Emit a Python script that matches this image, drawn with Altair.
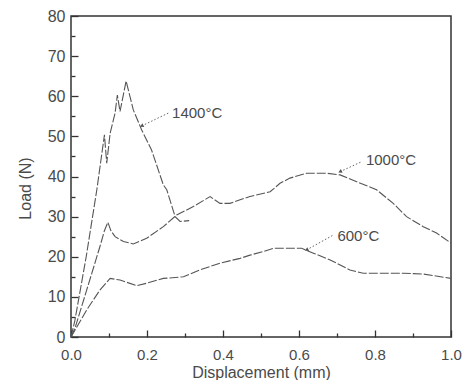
import altair as alt
import pandas as pd

# ---- data ----
d_1400 = [0, 0.01, 0.04, 0.068, 0.088, 0.094, 0.103, 0.116, 0.122, 0.129, 0.145, 0.164, 0.186, 0.212, 0.243, 0.252, 0.274, 0.287, 0.311]
l_1400 = [0, 4, 20, 36.7, 50.4, 43.3, 50.8, 55.8, 60.3, 56.2, 63.8, 56.6, 51.6, 46.6, 37.9, 36.7, 30, 28.8, 29]

d_1000 = [0, 0.0105, 0.04, 0.076, 0.088, 0.097, 0.105, 0.116, 0.138, 0.164, 0.199, 0.243, 0.278, 0.322, 0.366, 0.392, 0.418, 0.445, 0.471, 0.524, 0.55, 0.576, 0.62, 0.673, 0.708, 0.752, 0.804, 0.848, 0.883, 0.927, 0.962, 1.0]
l_1000 = [0, 2.2, 11.3, 22.5, 26.5, 28.6, 26.5, 25, 23.8, 23.2, 24.6, 27.5, 30.4, 32.5, 35, 33.3, 33.3, 34.2, 35, 36.2, 38.3, 39.6, 40.8, 40.8, 40.4, 38.7, 36.7, 33.3, 30, 27.5, 25.9, 23.4]

d_600 = [0, 0.041, 0.076, 0.103, 0.129, 0.173, 0.199, 0.243, 0.296, 0.339, 0.392, 0.445, 0.471, 0.506, 0.532, 0.576, 0.607, 0.638, 0.682, 0.734, 0.769, 0.822, 0.875, 0.927, 1.0]
l_600 = [0, 6.7, 11.7, 14.6, 14.2, 12.8, 13.4, 14.6, 15, 16.7, 18.4, 19.6, 20.4, 21.3, 22.1, 22.1, 22.1, 20.9, 19.2, 16.7, 15.9, 15.9, 15.9, 15.7, 14.6]

labels = ["1400°C", "1000°C", "600°C"]
label_x = [0.266, 0.776, 0.701]
label_y = [55.9, 44.1, 25.2]
leader_x1 = [0.186, 0.708, 0.62]
leader_y1 = [52.6, 41.2, 21.7]
leader_x2 = [0.256, 0.765, 0.69]
leader_y2 = [55.8, 43.7, 25.4]

x_major = [0, 0.2, 0.4, 0.6, 0.8, 1.0]
x_minor = [0.1, 0.3, 0.5, 0.7, 0.9]
y_major = [0, 10, 20, 30, 40, 50, 60, 70, 80]
y_minor = [5, 15, 25, 35, 45, 55, 65, 75]

rows = []
for name, ds, ls in [("1400", d_1400, l_1400), ("1000", d_1000, l_1000), ("600", d_600, l_600)]:
    for i, (d, l) in enumerate(zip(ds, ls)):
        rows.append({"series": name, "order": i, "d": d, "load": l})
curves = pd.DataFrame(rows)

ann = pd.DataFrame({"label": labels, "tx": label_x, "ty": label_y,
                    "x1": leader_x1, "y1": leader_y1, "x2": leader_x2, "y2": leader_y2})

FONT = "Liberation Sans"
TXT = "#4a4a4a"
TICK = "#333333"

xscale = alt.Scale(domain=[0, 1.0], nice=False)
yscale = alt.Scale(domain=[0, 80], nice=False)

x_axis = alt.Axis(
    orient="bottom", values=x_major, format=".1f", title="Displacement (mm)",
    tickSize={"expr": "-7"},
    labelPadding=17, labelFontSize=15, labelFont=FONT, labelColor=TXT,
    titleFont=FONT, titleFontSize=16, titleFontWeight="normal", titleColor=TXT,
    titleY=35, titleBaseline="middle",
    tickColor=TICK, tickWidth=1.3, domain=False, grid=False, labelFlush=False,
)
y_axis = alt.Axis(
    orient="left", values=y_major, title="Load (N)",
    tickSize={"expr": "-7"},
    labelPadding=13, labelFontSize=16, labelFont=FONT, labelColor=TXT,
    titleFont=FONT, titleFontSize=16, titleFontWeight="normal", titleColor=TXT,
    titleX=-46, titleY=172, titleAngle=270, titleAlign="center", titleBaseline="middle",
    tickColor=TICK, tickWidth=1.3, domain=False, grid=False, labelFlush=False,
)
x_minor_axis = alt.Axis(orient="bottom", values=x_minor, tickSize={"expr": "-4"}, labels=False,
                        title=None, tickColor=TICK, tickWidth=1.3, domain=False, grid=False)
y_minor_axis = alt.Axis(orient="left", values=y_minor, tickSize={"expr": "-4"}, labels=False,
                        title=None, tickColor=TICK, tickWidth=1.3, domain=False, grid=False)

lines = alt.Chart(curves).mark_line(strokeWidth=1.1, strokeDash=[9, 2]).encode(
    x=alt.X("d:Q", scale=xscale, axis=x_axis),
    y=alt.Y("load:Q", scale=yscale, axis=y_axis),
    detail="series:N",
    order="order:Q",
    color=alt.value("#555555"),
)

minor = alt.Chart(curves).mark_point(opacity=0).encode(
    x=alt.X("d:Q", scale=xscale, axis=x_minor_axis),
    y=alt.Y("load:Q", scale=yscale, axis=y_minor_axis),
)

leaders = alt.Chart(ann).mark_rule(strokeWidth=1, strokeDash=[1.5, 2], color="#666").encode(
    x=alt.X("x1:Q", scale=xscale, axis=None), y=alt.Y("y1:Q", scale=yscale, axis=None),
    x2="x2:Q", y2="y2:Q",
)

heads = alt.Chart(ann).mark_point(shape="triangle-left", filled=True, size=18, angle=333,
                                  color="#555", opacity=1).encode(
    x=alt.X("x1:Q", scale=xscale, axis=None), y=alt.Y("y1:Q", scale=yscale, axis=None),
)

texts = alt.Chart(ann).mark_text(align="left", baseline="middle", font=FONT, fontSize=15, color=TXT).encode(
    x=alt.X("tx:Q", scale=xscale, axis=None), y=alt.Y("ty:Q", scale=yscale, axis=None), text="label:N",
)

chart = alt.layer(lines, minor, leaders, heads, texts).resolve_axis(
    x="independent", y="independent"
).properties(
    width=380, height=321,
    background="white",
    autosize=alt.AutoSizeParams(type="none"),
    padding={"left": 63, "top": 8, "right": 17, "bottom": 43},
).configure_view(stroke="#333", strokeWidth=1.5)

chart.save("out.html", embed_options={"renderer": "svg", "actions": False})
